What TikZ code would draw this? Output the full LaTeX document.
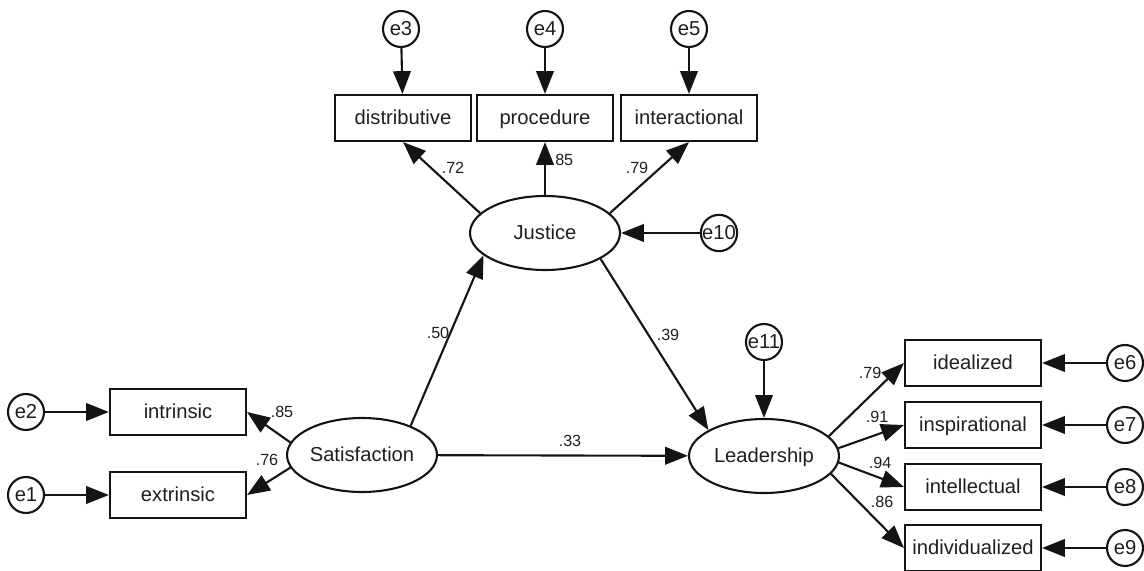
\documentclass[tikz,border=0pt]{standalone}
\usepackage{fontspec}
\setmainfont{Liberation Sans}
\usepackage{tikz}
\usetikzlibrary{positioning, arrows.meta, shapes.geometric}
\definecolor{ctrait}{gray}{0.08}
\definecolor{ctexte}{gray}{0.12}

\begin{document}
\begin{tikzpicture}[x=0.02cm, y=-0.02cm,
    obs/.style={draw=ctrait, line width=1.2pt, minimum width=2.72cm,
              minimum height=0.92cm, inner sep=0pt, text=ctexte,
              text height=7.6pt, text depth=0pt,
              font=\fontsize{11.5}{13}\selectfont},
    lat/.style={obs, ellipse, minimum width=3cm, minimum height=1.48cm},
    err/.style={obs, circle, minimum width=0.72cm, minimum size=0.72cm},
    fleche/.style={-{Triangle[length=13pt, width=10pt]}, ctrait, line width=1.2pt},
    coef/.style={text=ctexte, font=\fontsize{9.2}{10}\selectfont, inner sep=0pt}]

  \useasboundingbox (0,0) rectangle (1144,571);

  % latent variables
  \node[lat] (jus) at (545,233) {Justice};
  \node[lat] (sat) at (362,455) {Satisfaction};
  \node[lat] (lead) at (764,456) {Leadership};

  % indicators
  \node[obs] (dist) at (403,118) {distributive};
  \node[obs] (proc) at (545,118) {procedure};
  \node[obs] (inter) at (689,118) {interactional};
  \node[obs] (intr) at (178,412) {intrinsic};
  \node[obs] (extr) at (178,495) {extrinsic};
  \node[obs] (ideal) at (973,363) {idealized};
  \node[obs] (insp) at (973,425) {inspirational};
  \node[obs] (intel) at (973,487) {intellectual};
  \node[obs] (indiv) at (973,548) {individualized};

  % errors
  \node[err] (e3) at (401,29) {e3};
  \node[err] (e4) at (545,29) {e4};
  \node[err] (e5) at (689,29) {e5};
  \node[err] (e10) at (719,233) {e10};
  \node[err] (e11) at (764,342) {e11};
  \node[err] (e2) at (26,412) {e2};
  \node[err] (e1) at (26,495) {e1};
  \node[err] (e6) at (1125,363) {e6};
  \node[err] (e7) at (1125,425) {e7};
  \node[err] (e8) at (1125,487) {e8};
  \node[err] (e9) at (1125,548) {e9};

  \draw[fleche] (e3) -- (dist);
  \draw[fleche] (e4) -- (proc);
  \draw[fleche] (e5) -- (inter);
  \draw[fleche] (e10) -- (jus);
  \draw[fleche] (e11) -- (lead);
  \draw[fleche] (e2) -- (intr);
  \draw[fleche] (e1) -- (extr);
  \draw[fleche] (e6) -- (ideal);
  \draw[fleche] (e7) -- (insp);
  \draw[fleche] (e8) -- (intel);
  \draw[fleche] (e9) -- (indiv);

  \draw[fleche] (jus.163) -- (dist.south);
  \draw[fleche] (jus.north) -- (proc.south);
  \draw[fleche] (jus.17) -- (inter.south);
  \draw[fleche] (sat.31) -- (jus.200);
  \draw[fleche] (jus.335) -- (lead.155);
  \draw[fleche] (sat) -- (lead);
  \draw[fleche] (sat.170) -- (intr.east);
  \draw[fleche] (sat.190) -- (extr.east);
  \draw[fleche] (lead.17) -- (ideal.west);
  \draw[fleche] (lead.6) -- (insp.west);
  \draw[fleche] (lead.355) -- (intel.west);
  \draw[fleche] (lead.345) -- (indiv.west);

  % coefficients
  \node[coef] (c1) at (453,168) {.72};
  \node[coef] (c2) at (562,160) {.85};
  \node[coef] (c3) at (637,168) {.79};
  \node[coef] (c4) at (438,333) {.50};
  \node[coef] (c5) at (668,335) {.39};
  \node[coef] (c6) at (570,441) {.33};
  \node[coef] (c7) at (282,412) {.85};
  \node[coef] (c8) at (267,460) {.76};
  \node[coef] (c9) at (870,373) {.79};
  \node[coef] (c10) at (877,417) {.91};
  \node[coef] (c11) at (880,463) {.94};
  \node[coef] (c12) at (882,502) {.86};
\end{tikzpicture}
\end{document}
